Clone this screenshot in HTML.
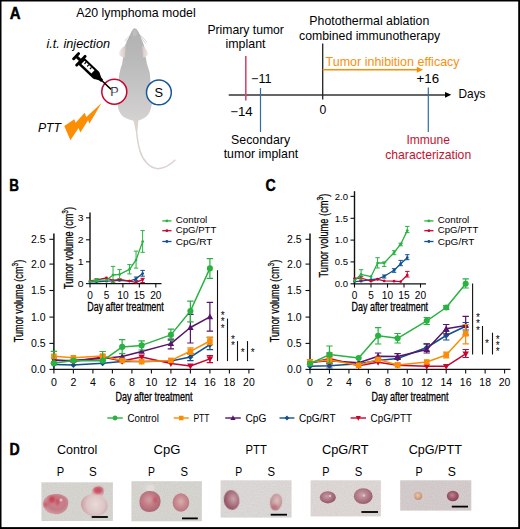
<!DOCTYPE html>
<html><head><meta charset="utf-8"><style>
html,body{margin:0;padding:0;background:#fff;overflow:hidden;}
svg{display:block;}
text{font-family:"Liberation Sans",sans-serif;}
</style></head><body>
<svg width="520" height="529" viewBox="0 0 520 529">
<rect x="0" y="0" width="520" height="529" fill="#000"/>
<rect x="1.5" y="1.5" width="516.7" height="525.6" fill="#fff"/>
<text x="9.80" y="18.9" font-size="15.6" font-weight="bold" font-style="normal" fill="#000" textLength="10.82" lengthAdjust="spacingAndGlyphs" stroke="#000" stroke-width="0.45">A</text>
<text x="76.2" y="17" font-size="12.2" text-anchor="start" font-weight="normal" font-style="normal" fill="#000" textLength="119.5" lengthAdjust="spacingAndGlyphs" >A20 lymphoma model</text>
<defs>
<linearGradient id="mg" x1="0" y1="0" x2="1" y2="0">
<stop offset="0" stop-color="#b9b8b8"/><stop offset="0.5" stop-color="#a9a8a8"/><stop offset="1" stop-color="#bdbbba"/>
</linearGradient>
<linearGradient id="mg2" x1="0" y1="0" x2="0" y2="1">
<stop offset="0" stop-color="#b2b1b1"/><stop offset="0.35" stop-color="#bbbaba"/><stop offset="0.7" stop-color="#c8c7c7"/><stop offset="1" stop-color="#d5d2d1"/>
</linearGradient>
<filter id="blur1"><feGaussianBlur stdDeviation="0.6"/></filter>
</defs>
<path d="M135.6,119 C136.2,130 137.2,142 140,151 C143,161 150,168 157,168.6 C164,169 170,165 175,160.3" fill="none" stroke="#dcd2ce" stroke-width="1.5" stroke-linecap="round"/>
<path d="M132.8,118 L138.6,118 L137.4,131 L135.9,131 Z" fill="#dcd2ce"/>
<path filter="url(#blur1)" d="M134.8,28.2 C136.5,28.8 137.5,30 138.2,31.6 C139.5,34 140.5,36.5 141.2,38.4 C142,40.5 142.8,42 143.3,43.5 L144.4,47 L145.8,57.8 C146.3,60 146.6,62 146.9,63.8 C148.3,68 149.3,71 149.8,73.2 C150.5,80 151,90 151.7,99.8 C152,104 151.5,107 150.7,109.2 C149.5,113 148,115 146,116.8 C143,119 140.5,120 138.4,120.6 L132.7,120.6 C130,120 126,118.5 123.3,116.8 C121,114.5 119,111.5 118.5,109.2 C117.5,105 117.4,102 117.6,99.8 C118,90 118.3,80 119.5,73.2 C120,70 121,67 122.2,63.8 C122.4,62 122.7,60 123,57.8 L124.7,46 C125.2,45 125.6,44.3 126,43.5 C126.8,41.5 127.5,40 128.5,38.4 C129.5,36 130.5,33.5 131.5,31.6 C132.5,29.5 133.5,28.5 134.8,28.2 Z" fill="url(#mg2)"/>
<ellipse cx="134.8" cy="33" rx="2.2" ry="3.5" fill="#c4c2c2" filter="url(#blur1)" opacity="0.7"/>
<defs><linearGradient id="earL" x1="0" y1="0" x2="1" y2="0"><stop offset="0" stop-color="#f1e9e6"/><stop offset="1" stop-color="#d6c6c3"/></linearGradient><linearGradient id="earR" x1="1" y1="0" x2="0" y2="0"><stop offset="0" stop-color="#f1e9e6"/><stop offset="1" stop-color="#d6c6c3"/></linearGradient></defs>
<path filter="url(#blur1)" d="M125.8,45.4 C122.5,46.8 119.6,49.8 119.1,53.2 C119,55 120,56.2 121.4,56.6 C122.6,57.1 123.7,57.6 124.8,57.6 Z" fill="url(#earL)"/>
<path filter="url(#blur1)" d="M142,45.8 C145,47.2 147.6,50.4 147.9,53.6 C148,55.3 147.2,56.2 145.9,56.6 C144.8,57.1 143.9,57.6 143.2,57.6 Z" fill="url(#earR)"/>
<path d="M129.8,35.8 L124.5,40.8 M130.2,37 L126,42 M139.6,34.2 L146.9,42 M140,35.8 L145.5,43.5" stroke="#7d7b7b" stroke-width="0.45" opacity="0.7" fill="none"/>
<circle cx="114.3" cy="91.7" r="12.5" fill="#fff" stroke="#c8052f" stroke-width="1.5"/>
<circle cx="158.9" cy="92.4" r="12.4" fill="#fff" stroke="#17589a" stroke-width="1.5"/>
<text x="110.2" y="96.2" font-size="12.6" text-anchor="start" font-weight="normal" font-style="normal" fill="#000" stroke="#fff" stroke-width="0.2">P</text>
<text x="154.5" y="97.2" font-size="12.8" text-anchor="start" font-weight="normal" font-style="normal" fill="#000" >S</text>
<g transform="translate(76.1,56.2) rotate(43.5)" fill="#000"><rect x="-1.4" y="-5.0" width="2.8" height="10" rx="1.2"/><rect x="0" y="-1.45" width="6.5" height="2.9"/><rect x="5.2" y="-7.5" width="2.8" height="15" rx="1.2"/><path d="M7,-4.6 L27.3,-4.6 Q29.8,-4.6 29.8,-2 L29.8,2 Q29.8,4.6 27.3,4.6 L7,4.6 Z"/><rect x="9.2" y="-2.5" width="13.8" height="4.5" fill="#fff"/><rect x="10.8" y="-2.6" width="1.2" height="2.5" rx="0.5"/><rect x="14.5" y="-2.6" width="1.2" height="2.5" rx="0.5"/><rect x="18.3" y="-2.6" width="1.2" height="2.5" rx="0.5"/><path d="M29,-3.8 L33,-1.8 L36,-1.5 L36,1.5 L33,1.8 L29,3.8 Z"/><rect x="35" y="-0.7" width="13.2" height="1.4"/></g>
<text x="46.5" y="47.6" font-size="12.2" text-anchor="start" font-weight="normal" font-style="italic" fill="#000" textLength="63.5" lengthAdjust="spacingAndGlyphs" >i.t. injection</text>
<path d="M64.3,126 L74.3,119.2 L75.6,122.7 L84.7,112.8 L86.4,116.9 L101.5,103 L89.4,123.8 L88.1,120.3 L80.3,132.4 L78.6,128.1 L70.4,140.2 Z" fill="#fb8e02"/>
<text x="38" y="132.2" font-size="12.2" text-anchor="start" font-weight="normal" font-style="italic" fill="#000" textLength="23" lengthAdjust="spacingAndGlyphs" >PTT</text>
<line x1="228.7" y1="94.9" x2="446" y2="94.9" stroke="#333" stroke-width="1.5"/>
<path d="M445,91.9 L451.3,94.8 L445,97.7 Z" fill="#000"/>
<line x1="245.8" y1="56" x2="245.8" y2="100.5" stroke="#d8486c" stroke-width="1.6"/>
<line x1="260.5" y1="88" x2="260.5" y2="132" stroke="#2c6ea6" stroke-width="1.2"/>
<line x1="322.7" y1="43.5" x2="322.7" y2="99.5" stroke="#222" stroke-width="1.3"/>
<line x1="428.3" y1="87.5" x2="428.3" y2="132" stroke="#2c6ea6" stroke-width="1.2"/>
<line x1="322.7" y1="69.8" x2="418" y2="69.8" stroke="#fb8e04" stroke-width="1.6"/>
<path d="M416.8,66.8 L423,69.8 L416.8,72.8 Z" fill="#fb8e04"/>
<text x="245.7" y="33.5" font-size="12.2" text-anchor="middle" font-weight="normal" font-style="normal" fill="#000" textLength="76.5" lengthAdjust="spacingAndGlyphs" >Primary tumor</text>
<text x="245.5" y="48.3" font-size="12.2" text-anchor="middle" font-weight="normal" font-style="normal" fill="#000" textLength="40" lengthAdjust="spacingAndGlyphs" >implant</text>
<text x="369.3" y="24.5" font-size="12.2" text-anchor="middle" font-weight="normal" font-style="normal" fill="#000" textLength="120" lengthAdjust="spacingAndGlyphs" >Photothermal ablation</text>
<text x="369.6" y="39.5" font-size="12.2" text-anchor="middle" font-weight="normal" font-style="normal" fill="#000" textLength="141" lengthAdjust="spacingAndGlyphs" >combined immunotherapy</text>
<text x="392.6" y="65.9" font-size="12.2" text-anchor="middle" font-weight="normal" font-style="normal" fill="#f99010" textLength="134" lengthAdjust="spacingAndGlyphs" >Tumor inhibition efficacy</text>
<text x="261.3" y="83" font-size="12.2" text-anchor="middle" font-weight="normal" font-style="normal" fill="#000" textLength="20.5" lengthAdjust="spacingAndGlyphs" >−11</text>
<text x="427.8" y="83.2" font-size="12.2" text-anchor="middle" font-weight="normal" font-style="normal" fill="#000" textLength="22.5" lengthAdjust="spacingAndGlyphs" >+16</text>
<text x="241.5" y="115.5" font-size="12.2" text-anchor="middle" font-weight="normal" font-style="normal" fill="#000" textLength="22.5" lengthAdjust="spacingAndGlyphs" >−14</text>
<text x="322.9" y="113.8" font-size="12.2" text-anchor="middle" font-weight="normal" font-style="normal" fill="#000" >0</text>
<text x="472" y="98.3" font-size="12.2" text-anchor="middle" font-weight="normal" font-style="normal" fill="#000" textLength="27" lengthAdjust="spacingAndGlyphs" >Days</text>
<text x="260.6" y="143.8" font-size="12.2" text-anchor="middle" font-weight="normal" font-style="normal" fill="#000" textLength="59" lengthAdjust="spacingAndGlyphs" >Secondary</text>
<text x="260.9" y="157.5" font-size="12.2" text-anchor="middle" font-weight="normal" font-style="normal" fill="#000" textLength="74.5" lengthAdjust="spacingAndGlyphs" >tumor implant</text>
<text x="428.2" y="143.5" font-size="12.2" text-anchor="middle" font-weight="normal" font-style="normal" fill="#c2122f" textLength="43.5" lengthAdjust="spacingAndGlyphs" >Immune</text>
<text x="428.2" y="158.8" font-size="12.2" text-anchor="middle" font-weight="normal" font-style="normal" fill="#c2122f" textLength="86" lengthAdjust="spacingAndGlyphs" >characterization</text>
<line x1="53.9" y1="233.5" x2="53.9" y2="370.0" stroke="#111" stroke-width="1.5"/>
<line x1="53.15" y1="369.4" x2="254.4" y2="369.4" stroke="#111" stroke-width="1.3"/>
<line x1="49.4" y1="369.4" x2="53.9" y2="369.4" stroke="#111" stroke-width="1.1"/>
<text x="45.599999999999994" y="373.0" font-size="10.4" text-anchor="end" font-weight="normal" font-style="normal" fill="#000" textLength="14.6" lengthAdjust="spacingAndGlyphs" >0.0</text>
<line x1="49.4" y1="343.4" x2="53.9" y2="343.4" stroke="#111" stroke-width="1.1"/>
<text x="45.599999999999994" y="347.0" font-size="10.4" text-anchor="end" font-weight="normal" font-style="normal" fill="#000" textLength="14.6" lengthAdjust="spacingAndGlyphs" >0.5</text>
<line x1="49.4" y1="317.1" x2="53.9" y2="317.1" stroke="#111" stroke-width="1.1"/>
<text x="45.599999999999994" y="320.70000000000005" font-size="10.4" text-anchor="end" font-weight="normal" font-style="normal" fill="#000" textLength="14.6" lengthAdjust="spacingAndGlyphs" >1.0</text>
<line x1="49.4" y1="290.5" x2="53.9" y2="290.5" stroke="#111" stroke-width="1.1"/>
<text x="45.599999999999994" y="294.1" font-size="10.4" text-anchor="end" font-weight="normal" font-style="normal" fill="#000" textLength="14.6" lengthAdjust="spacingAndGlyphs" >1.5</text>
<line x1="49.4" y1="264.1" x2="53.9" y2="264.1" stroke="#111" stroke-width="1.1"/>
<text x="45.599999999999994" y="267.70000000000005" font-size="10.4" text-anchor="end" font-weight="normal" font-style="normal" fill="#000" textLength="14.6" lengthAdjust="spacingAndGlyphs" >2.0</text>
<line x1="49.4" y1="239.3" x2="53.9" y2="239.3" stroke="#111" stroke-width="1.1"/>
<text x="45.599999999999994" y="242.9" font-size="10.4" text-anchor="end" font-weight="normal" font-style="normal" fill="#000" textLength="14.6" lengthAdjust="spacingAndGlyphs" >2.5</text>
<line x1="53.90" y1="369.4" x2="53.90" y2="373.59999999999997" stroke="#111" stroke-width="1.1"/>
<text x="53.90" y="386.29999999999995" font-size="10.4" text-anchor="middle" font-weight="normal" font-style="normal" fill="#000" textLength="5.9" lengthAdjust="spacingAndGlyphs" >0</text>
<line x1="73.40" y1="369.4" x2="73.40" y2="373.59999999999997" stroke="#111" stroke-width="1.1"/>
<text x="73.40" y="386.29999999999995" font-size="10.4" text-anchor="middle" font-weight="normal" font-style="normal" fill="#000" textLength="5.9" lengthAdjust="spacingAndGlyphs" >2</text>
<line x1="92.90" y1="369.4" x2="92.90" y2="373.59999999999997" stroke="#111" stroke-width="1.1"/>
<text x="92.90" y="386.29999999999995" font-size="10.4" text-anchor="middle" font-weight="normal" font-style="normal" fill="#000" textLength="5.9" lengthAdjust="spacingAndGlyphs" >4</text>
<line x1="112.40" y1="369.4" x2="112.40" y2="373.59999999999997" stroke="#111" stroke-width="1.1"/>
<text x="112.40" y="386.29999999999995" font-size="10.4" text-anchor="middle" font-weight="normal" font-style="normal" fill="#000" textLength="5.9" lengthAdjust="spacingAndGlyphs" >6</text>
<line x1="131.90" y1="369.4" x2="131.90" y2="373.59999999999997" stroke="#111" stroke-width="1.1"/>
<text x="131.90" y="386.29999999999995" font-size="10.4" text-anchor="middle" font-weight="normal" font-style="normal" fill="#000" textLength="5.9" lengthAdjust="spacingAndGlyphs" >8</text>
<line x1="151.40" y1="369.4" x2="151.40" y2="373.59999999999997" stroke="#111" stroke-width="1.1"/>
<text x="151.40" y="386.29999999999995" font-size="10.4" text-anchor="middle" font-weight="normal" font-style="normal" fill="#000" textLength="11.6" lengthAdjust="spacingAndGlyphs" >10</text>
<line x1="170.90" y1="369.4" x2="170.90" y2="373.59999999999997" stroke="#111" stroke-width="1.1"/>
<text x="170.90" y="386.29999999999995" font-size="10.4" text-anchor="middle" font-weight="normal" font-style="normal" fill="#000" textLength="11.6" lengthAdjust="spacingAndGlyphs" >12</text>
<line x1="190.40" y1="369.4" x2="190.40" y2="373.59999999999997" stroke="#111" stroke-width="1.1"/>
<text x="190.40" y="386.29999999999995" font-size="10.4" text-anchor="middle" font-weight="normal" font-style="normal" fill="#000" textLength="11.6" lengthAdjust="spacingAndGlyphs" >14</text>
<line x1="209.90" y1="369.4" x2="209.90" y2="373.59999999999997" stroke="#111" stroke-width="1.1"/>
<text x="209.90" y="386.29999999999995" font-size="10.4" text-anchor="middle" font-weight="normal" font-style="normal" fill="#000" textLength="11.6" lengthAdjust="spacingAndGlyphs" >16</text>
<line x1="229.40" y1="369.4" x2="229.40" y2="373.59999999999997" stroke="#111" stroke-width="1.1"/>
<text x="229.40" y="386.29999999999995" font-size="10.4" text-anchor="middle" font-weight="normal" font-style="normal" fill="#000" textLength="11.6" lengthAdjust="spacingAndGlyphs" >18</text>
<line x1="248.90" y1="369.4" x2="248.90" y2="373.59999999999997" stroke="#111" stroke-width="1.1"/>
<text x="248.90" y="386.29999999999995" font-size="10.4" text-anchor="middle" font-weight="normal" font-style="normal" fill="#000" textLength="11.6" lengthAdjust="spacingAndGlyphs" >20</text>
<polyline points="53.90,364.40 73.40,365.00 102.65,363.20 122.15,361.50 141.65,361.60 170.90,361.00 190.40,357.00 209.90,344.70" fill="none" stroke="#124f8e" stroke-width="1.5" stroke-linejoin="round"/>
<path d="M190.40,353.30 L190.40,360.60 M187.20,353.30 L193.60,353.30 M187.20,360.60 L193.60,360.60" stroke="#124f8e" stroke-width="1.2" fill="none"/>
<path d="M209.90,337.30 L209.90,349.60 M206.70,337.30 L213.10,337.30 M206.70,349.60 L213.10,349.60" stroke="#124f8e" stroke-width="1.2" fill="none"/>
<path d="M53.90,361.40 L56.90,364.40 L53.90,367.40 L50.90,364.40 Z" fill="#124f8e"/>
<path d="M73.40,362.00 L76.40,365.00 L73.40,368.00 L70.40,365.00 Z" fill="#124f8e"/>
<path d="M102.65,360.20 L105.65,363.20 L102.65,366.20 L99.65,363.20 Z" fill="#124f8e"/>
<path d="M122.15,358.50 L125.15,361.50 L122.15,364.50 L119.15,361.50 Z" fill="#124f8e"/>
<path d="M141.65,358.60 L144.65,361.60 L141.65,364.60 L138.65,361.60 Z" fill="#124f8e"/>
<path d="M170.90,358.00 L173.90,361.00 L170.90,364.00 L167.90,361.00 Z" fill="#124f8e"/>
<path d="M190.40,354.00 L193.40,357.00 L190.40,360.00 L187.40,357.00 Z" fill="#124f8e"/>
<path d="M209.90,341.70 L212.90,344.70 L209.90,347.70 L206.90,344.70 Z" fill="#124f8e"/>
<polyline points="53.90,359.80 73.40,361.60 102.65,357.00 122.15,361.00 141.65,357.00 170.90,363.60 190.40,366.00 209.90,358.90" fill="none" stroke="#c8052f" stroke-width="1.5" stroke-linejoin="round"/>
<path d="M209.90,355.70 L209.90,362.60 M206.70,355.70 L213.10,355.70 M206.70,362.60 L213.10,362.60" stroke="#c8052f" stroke-width="1.2" fill="none"/>
<path d="M53.90,363.20 L57.13,357.42 L50.67,357.42 Z" fill="#c8052f"/>
<path d="M73.40,365.00 L76.63,359.22 L70.17,359.22 Z" fill="#c8052f"/>
<path d="M102.65,360.40 L105.88,354.62 L99.42,354.62 Z" fill="#c8052f"/>
<path d="M122.15,364.40 L125.38,358.62 L118.92,358.62 Z" fill="#c8052f"/>
<path d="M141.65,360.40 L144.88,354.62 L138.42,354.62 Z" fill="#c8052f"/>
<path d="M170.90,367.00 L174.13,361.22 L167.67,361.22 Z" fill="#c8052f"/>
<path d="M190.40,369.40 L193.63,363.62 L187.17,363.62 Z" fill="#c8052f"/>
<path d="M209.90,362.30 L213.13,356.52 L206.67,356.52 Z" fill="#c8052f"/>
<polyline points="53.90,360.60 73.40,360.30 102.65,358.60 122.15,356.50 141.65,351.40 170.90,343.60 190.40,327.50 209.90,316.90" fill="none" stroke="#57146c" stroke-width="1.5" stroke-linejoin="round"/>
<path d="M170.90,339.20 L170.90,348.80 M167.70,339.20 L174.10,339.20 M167.70,348.80 L174.10,348.80" stroke="#57146c" stroke-width="1.2" fill="none"/>
<path d="M190.40,314.40 L190.40,343.00 M187.20,314.40 L193.60,314.40 M187.20,343.00 L193.60,343.00" stroke="#57146c" stroke-width="1.2" fill="none"/>
<path d="M209.90,302.40 L209.90,331.10 M206.70,302.40 L213.10,302.40 M206.70,331.10 L213.10,331.10" stroke="#57146c" stroke-width="1.2" fill="none"/>
<path d="M53.90,357.20 L57.13,362.98 L50.67,362.98 Z" fill="#57146c"/>
<path d="M73.40,356.90 L76.63,362.68 L70.17,362.68 Z" fill="#57146c"/>
<path d="M102.65,355.20 L105.88,360.98 L99.42,360.98 Z" fill="#57146c"/>
<path d="M122.15,353.10 L125.38,358.88 L118.92,358.88 Z" fill="#57146c"/>
<path d="M141.65,348.00 L144.88,353.78 L138.42,353.78 Z" fill="#57146c"/>
<path d="M170.90,340.20 L174.13,345.98 L167.67,345.98 Z" fill="#57146c"/>
<path d="M190.40,324.10 L193.63,329.88 L187.17,329.88 Z" fill="#57146c"/>
<path d="M209.90,313.50 L213.13,319.28 L206.67,319.28 Z" fill="#57146c"/>
<polyline points="53.90,356.30 73.40,357.80 102.65,356.10 122.15,360.50 141.65,361.70 170.90,360.40 190.40,351.30 209.90,341.00" fill="none" stroke="#fb8c06" stroke-width="1.5" stroke-linejoin="round"/>
<path d="M190.40,347.90 L190.40,354.50 M187.20,347.90 L193.60,347.90 M187.20,354.50 L193.60,354.50" stroke="#fb8c06" stroke-width="1.2" fill="none"/>
<path d="M209.90,337.30 L209.90,344.70 M206.70,337.30 L213.10,337.30 M206.70,344.70 L213.10,344.70" stroke="#fb8c06" stroke-width="1.2" fill="none"/>
<rect x="51.10" y="353.50" width="5.60" height="5.60" fill="#fb8c06"/>
<rect x="70.60" y="355.00" width="5.60" height="5.60" fill="#fb8c06"/>
<rect x="99.85" y="353.30" width="5.60" height="5.60" fill="#fb8c06"/>
<rect x="119.35" y="357.70" width="5.60" height="5.60" fill="#fb8c06"/>
<rect x="138.85" y="358.90" width="5.60" height="5.60" fill="#fb8c06"/>
<rect x="168.10" y="357.60" width="5.60" height="5.60" fill="#fb8c06"/>
<rect x="187.60" y="348.50" width="5.60" height="5.60" fill="#fb8c06"/>
<rect x="207.10" y="338.20" width="5.60" height="5.60" fill="#fb8c06"/>
<polyline points="53.90,363.30 73.40,360.60 102.65,360.80 122.15,346.90 141.65,345.40 170.90,334.90 190.40,311.00 209.90,268.40" fill="none" stroke="#28b240" stroke-width="1.5" stroke-linejoin="round"/>
<path d="M53.90,351.40 L53.90,363.30 M50.70,351.40 L57.10,351.40 M50.70,363.30 L57.10,363.30" stroke="#28b240" stroke-width="1.2" fill="none"/>
<path d="M102.65,351.50 L102.65,360.80 M99.45,351.50 L105.85,351.50 M99.45,360.80 L105.85,360.80" stroke="#28b240" stroke-width="1.2" fill="none"/>
<path d="M122.15,339.60 L122.15,353.60 M118.95,339.60 L125.35,339.60 M118.95,353.60 L125.35,353.60" stroke="#28b240" stroke-width="1.2" fill="none"/>
<path d="M141.65,340.80 L141.65,350.00 M138.45,340.80 L144.85,340.80 M138.45,350.00 L144.85,350.00" stroke="#28b240" stroke-width="1.2" fill="none"/>
<path d="M170.90,329.20 L170.90,340.50 M167.70,329.20 L174.10,329.20 M167.70,340.50 L174.10,340.50" stroke="#28b240" stroke-width="1.2" fill="none"/>
<path d="M190.40,301.10 L190.40,321.80 M187.20,301.10 L193.60,301.10 M187.20,321.80 L193.60,321.80" stroke="#28b240" stroke-width="1.2" fill="none"/>
<path d="M209.90,258.60 L209.90,278.30 M206.70,258.60 L213.10,258.60 M206.70,278.30 L213.10,278.30" stroke="#28b240" stroke-width="1.2" fill="none"/>
<circle cx="53.90" cy="363.30" r="3.05" fill="#28b240"/>
<circle cx="73.40" cy="360.60" r="3.05" fill="#28b240"/>
<circle cx="102.65" cy="360.80" r="3.05" fill="#28b240"/>
<circle cx="122.15" cy="346.90" r="3.05" fill="#28b240"/>
<circle cx="141.65" cy="345.40" r="3.05" fill="#28b240"/>
<circle cx="170.90" cy="334.90" r="3.05" fill="#28b240"/>
<circle cx="190.40" cy="311.00" r="3.05" fill="#28b240"/>
<circle cx="209.90" cy="268.40" r="3.05" fill="#28b240"/>
<line x1="310.0" y1="233.5" x2="310.0" y2="370.0" stroke="#111" stroke-width="1.5"/>
<line x1="309.25" y1="369.4" x2="510.5" y2="369.4" stroke="#111" stroke-width="1.3"/>
<line x1="305.5" y1="369.4" x2="310.0" y2="369.4" stroke="#111" stroke-width="1.1"/>
<text x="301.7" y="373.0" font-size="10.4" text-anchor="end" font-weight="normal" font-style="normal" fill="#000" textLength="14.6" lengthAdjust="spacingAndGlyphs" >0.0</text>
<line x1="305.5" y1="343.4" x2="310.0" y2="343.4" stroke="#111" stroke-width="1.1"/>
<text x="301.7" y="347.0" font-size="10.4" text-anchor="end" font-weight="normal" font-style="normal" fill="#000" textLength="14.6" lengthAdjust="spacingAndGlyphs" >0.5</text>
<line x1="305.5" y1="317.1" x2="310.0" y2="317.1" stroke="#111" stroke-width="1.1"/>
<text x="301.7" y="320.70000000000005" font-size="10.4" text-anchor="end" font-weight="normal" font-style="normal" fill="#000" textLength="14.6" lengthAdjust="spacingAndGlyphs" >1.0</text>
<line x1="305.5" y1="290.5" x2="310.0" y2="290.5" stroke="#111" stroke-width="1.1"/>
<text x="301.7" y="294.1" font-size="10.4" text-anchor="end" font-weight="normal" font-style="normal" fill="#000" textLength="14.6" lengthAdjust="spacingAndGlyphs" >1.5</text>
<line x1="305.5" y1="264.1" x2="310.0" y2="264.1" stroke="#111" stroke-width="1.1"/>
<text x="301.7" y="267.70000000000005" font-size="10.4" text-anchor="end" font-weight="normal" font-style="normal" fill="#000" textLength="14.6" lengthAdjust="spacingAndGlyphs" >2.0</text>
<line x1="305.5" y1="239.3" x2="310.0" y2="239.3" stroke="#111" stroke-width="1.1"/>
<text x="301.7" y="242.9" font-size="10.4" text-anchor="end" font-weight="normal" font-style="normal" fill="#000" textLength="14.6" lengthAdjust="spacingAndGlyphs" >2.5</text>
<line x1="310.00" y1="369.4" x2="310.00" y2="373.59999999999997" stroke="#111" stroke-width="1.1"/>
<text x="310.00" y="386.29999999999995" font-size="10.4" text-anchor="middle" font-weight="normal" font-style="normal" fill="#000" textLength="5.9" lengthAdjust="spacingAndGlyphs" >0</text>
<line x1="329.46" y1="369.4" x2="329.46" y2="373.59999999999997" stroke="#111" stroke-width="1.1"/>
<text x="329.46" y="386.29999999999995" font-size="10.4" text-anchor="middle" font-weight="normal" font-style="normal" fill="#000" textLength="5.9" lengthAdjust="spacingAndGlyphs" >2</text>
<line x1="348.92" y1="369.4" x2="348.92" y2="373.59999999999997" stroke="#111" stroke-width="1.1"/>
<text x="348.92" y="386.29999999999995" font-size="10.4" text-anchor="middle" font-weight="normal" font-style="normal" fill="#000" textLength="5.9" lengthAdjust="spacingAndGlyphs" >4</text>
<line x1="368.38" y1="369.4" x2="368.38" y2="373.59999999999997" stroke="#111" stroke-width="1.1"/>
<text x="368.38" y="386.29999999999995" font-size="10.4" text-anchor="middle" font-weight="normal" font-style="normal" fill="#000" textLength="5.9" lengthAdjust="spacingAndGlyphs" >6</text>
<line x1="387.84" y1="369.4" x2="387.84" y2="373.59999999999997" stroke="#111" stroke-width="1.1"/>
<text x="387.84" y="386.29999999999995" font-size="10.4" text-anchor="middle" font-weight="normal" font-style="normal" fill="#000" textLength="5.9" lengthAdjust="spacingAndGlyphs" >8</text>
<line x1="407.30" y1="369.4" x2="407.30" y2="373.59999999999997" stroke="#111" stroke-width="1.1"/>
<text x="407.30" y="386.29999999999995" font-size="10.4" text-anchor="middle" font-weight="normal" font-style="normal" fill="#000" textLength="11.6" lengthAdjust="spacingAndGlyphs" >10</text>
<line x1="426.76" y1="369.4" x2="426.76" y2="373.59999999999997" stroke="#111" stroke-width="1.1"/>
<text x="426.76" y="386.29999999999995" font-size="10.4" text-anchor="middle" font-weight="normal" font-style="normal" fill="#000" textLength="11.6" lengthAdjust="spacingAndGlyphs" >12</text>
<line x1="446.22" y1="369.4" x2="446.22" y2="373.59999999999997" stroke="#111" stroke-width="1.1"/>
<text x="446.22" y="386.29999999999995" font-size="10.4" text-anchor="middle" font-weight="normal" font-style="normal" fill="#000" textLength="11.6" lengthAdjust="spacingAndGlyphs" >14</text>
<line x1="465.68" y1="369.4" x2="465.68" y2="373.59999999999997" stroke="#111" stroke-width="1.1"/>
<text x="465.68" y="386.29999999999995" font-size="10.4" text-anchor="middle" font-weight="normal" font-style="normal" fill="#000" textLength="11.6" lengthAdjust="spacingAndGlyphs" >16</text>
<line x1="485.14" y1="369.4" x2="485.14" y2="373.59999999999997" stroke="#111" stroke-width="1.1"/>
<text x="485.14" y="386.29999999999995" font-size="10.4" text-anchor="middle" font-weight="normal" font-style="normal" fill="#000" textLength="11.6" lengthAdjust="spacingAndGlyphs" >18</text>
<line x1="504.60" y1="369.4" x2="504.60" y2="373.59999999999997" stroke="#111" stroke-width="1.1"/>
<text x="504.60" y="386.29999999999995" font-size="10.4" text-anchor="middle" font-weight="normal" font-style="normal" fill="#000" textLength="11.6" lengthAdjust="spacingAndGlyphs" >20</text>
<polyline points="310.00,366.20 329.46,365.80 358.65,363.80 378.11,360.40 397.57,358.50 426.76,347.50 446.22,335.50 465.68,326.30" fill="none" stroke="#124f8e" stroke-width="1.5" stroke-linejoin="round"/>
<path d="M329.46,363.50 L329.46,368.00 M326.26,363.50 L332.66,363.50 M326.26,368.00 L332.66,368.00" stroke="#124f8e" stroke-width="1.2" fill="none"/>
<path d="M426.76,344.00 L426.76,351.00 M423.56,344.00 L429.96,344.00 M423.56,351.00 L429.96,351.00" stroke="#124f8e" stroke-width="1.2" fill="none"/>
<path d="M446.22,331.30 L446.22,340.00 M443.02,331.30 L449.42,331.30 M443.02,340.00 L449.42,340.00" stroke="#124f8e" stroke-width="1.2" fill="none"/>
<path d="M465.68,322.50 L465.68,330.00 M462.48,322.50 L468.88,322.50 M462.48,330.00 L468.88,330.00" stroke="#124f8e" stroke-width="1.2" fill="none"/>
<path d="M310.00,363.20 L313.00,366.20 L310.00,369.20 L307.00,366.20 Z" fill="#124f8e"/>
<path d="M329.46,362.80 L332.46,365.80 L329.46,368.80 L326.46,365.80 Z" fill="#124f8e"/>
<path d="M358.65,360.80 L361.65,363.80 L358.65,366.80 L355.65,363.80 Z" fill="#124f8e"/>
<path d="M378.11,357.40 L381.11,360.40 L378.11,363.40 L375.11,360.40 Z" fill="#124f8e"/>
<path d="M397.57,355.50 L400.57,358.50 L397.57,361.50 L394.57,358.50 Z" fill="#124f8e"/>
<path d="M426.76,344.50 L429.76,347.50 L426.76,350.50 L423.76,347.50 Z" fill="#124f8e"/>
<path d="M446.22,332.50 L449.22,335.50 L446.22,338.50 L443.22,335.50 Z" fill="#124f8e"/>
<path d="M465.68,323.30 L468.68,326.30 L465.68,329.30 L462.68,326.30 Z" fill="#124f8e"/>
<polyline points="310.00,363.30 329.46,358.50 358.65,365.80 378.11,362.30 397.57,365.20 426.76,366.30 446.22,366.30 465.68,353.80" fill="none" stroke="#c8052f" stroke-width="1.5" stroke-linejoin="round"/>
<path d="M329.46,353.00 L329.46,364.00 M326.26,353.00 L332.66,353.00 M326.26,364.00 L332.66,364.00" stroke="#c8052f" stroke-width="1.2" fill="none"/>
<path d="M465.68,349.50 L465.68,357.50 M462.48,349.50 L468.88,349.50 M462.48,357.50 L468.88,357.50" stroke="#c8052f" stroke-width="1.2" fill="none"/>
<path d="M310.00,366.70 L313.23,360.92 L306.77,360.92 Z" fill="#c8052f"/>
<path d="M329.46,361.90 L332.69,356.12 L326.23,356.12 Z" fill="#c8052f"/>
<path d="M358.65,369.20 L361.88,363.42 L355.42,363.42 Z" fill="#c8052f"/>
<path d="M378.11,365.70 L381.34,359.92 L374.88,359.92 Z" fill="#c8052f"/>
<path d="M397.57,368.60 L400.80,362.82 L394.34,362.82 Z" fill="#c8052f"/>
<path d="M426.76,369.70 L429.99,363.92 L423.53,363.92 Z" fill="#c8052f"/>
<path d="M446.22,369.70 L449.45,363.92 L442.99,363.92 Z" fill="#c8052f"/>
<path d="M465.68,357.20 L468.91,351.42 L462.45,351.42 Z" fill="#c8052f"/>
<polyline points="310.00,362.30 329.46,360.80 358.65,362.70 378.11,356.20 397.57,356.50 426.76,349.50 446.22,328.80 465.68,325.50" fill="none" stroke="#57146c" stroke-width="1.5" stroke-linejoin="round"/>
<path d="M378.11,353.00 L378.11,359.40 M374.91,353.00 L381.31,353.00 M374.91,359.40 L381.31,359.40" stroke="#57146c" stroke-width="1.2" fill="none"/>
<path d="M397.57,353.60 L397.57,359.40 M394.37,353.60 L400.77,353.60 M394.37,359.40 L400.77,359.40" stroke="#57146c" stroke-width="1.2" fill="none"/>
<path d="M426.76,343.80 L426.76,353.00 M423.56,343.80 L429.96,343.80 M423.56,353.00 L429.96,353.00" stroke="#57146c" stroke-width="1.2" fill="none"/>
<path d="M446.22,324.50 L446.22,333.80 M443.02,324.50 L449.42,324.50 M443.02,333.80 L449.42,333.80" stroke="#57146c" stroke-width="1.2" fill="none"/>
<path d="M465.68,316.30 L465.68,335.00 M462.48,316.30 L468.88,316.30 M462.48,335.00 L468.88,335.00" stroke="#57146c" stroke-width="1.2" fill="none"/>
<path d="M310.00,358.90 L313.23,364.68 L306.77,364.68 Z" fill="#57146c"/>
<path d="M329.46,357.40 L332.69,363.18 L326.23,363.18 Z" fill="#57146c"/>
<path d="M358.65,359.30 L361.88,365.08 L355.42,365.08 Z" fill="#57146c"/>
<path d="M378.11,352.80 L381.34,358.58 L374.88,358.58 Z" fill="#57146c"/>
<path d="M397.57,353.10 L400.80,358.88 L394.34,358.88 Z" fill="#57146c"/>
<path d="M426.76,346.10 L429.99,351.88 L423.53,351.88 Z" fill="#57146c"/>
<path d="M446.22,325.40 L449.45,331.18 L442.99,331.18 Z" fill="#57146c"/>
<path d="M465.68,322.10 L468.91,327.88 L462.45,327.88 Z" fill="#57146c"/>
<polyline points="310.00,361.90 329.46,360.00 358.65,365.20 378.11,359.40 397.57,365.00 426.76,362.00 446.22,355.00 465.68,333.80" fill="none" stroke="#fb8c06" stroke-width="1.5" stroke-linejoin="round"/>
<path d="M310.00,359.50 L310.00,364.50 M306.80,359.50 L313.20,359.50 M306.80,364.50 L313.20,364.50" stroke="#fb8c06" stroke-width="1.2" fill="none"/>
<path d="M329.46,357.00 L329.46,363.00 M326.26,357.00 L332.66,357.00 M326.26,363.00 L332.66,363.00" stroke="#fb8c06" stroke-width="1.2" fill="none"/>
<path d="M446.22,352.00 L446.22,358.00 M443.02,352.00 L449.42,352.00 M443.02,358.00 L449.42,358.00" stroke="#fb8c06" stroke-width="1.2" fill="none"/>
<path d="M465.68,324.50 L465.68,343.80 M462.48,324.50 L468.88,324.50 M462.48,343.80 L468.88,343.80" stroke="#fb8c06" stroke-width="1.2" fill="none"/>
<rect x="307.20" y="359.10" width="5.60" height="5.60" fill="#fb8c06"/>
<rect x="326.66" y="357.20" width="5.60" height="5.60" fill="#fb8c06"/>
<rect x="355.85" y="362.40" width="5.60" height="5.60" fill="#fb8c06"/>
<rect x="375.31" y="356.60" width="5.60" height="5.60" fill="#fb8c06"/>
<rect x="394.77" y="362.20" width="5.60" height="5.60" fill="#fb8c06"/>
<rect x="423.96" y="359.20" width="5.60" height="5.60" fill="#fb8c06"/>
<rect x="443.42" y="352.20" width="5.60" height="5.60" fill="#fb8c06"/>
<rect x="462.88" y="331.00" width="5.60" height="5.60" fill="#fb8c06"/>
<polyline points="310.00,363.80 329.46,354.60 358.65,358.10 378.11,335.80 397.57,338.30 426.76,320.80 446.22,307.50 465.68,283.80" fill="none" stroke="#28b240" stroke-width="1.5" stroke-linejoin="round"/>
<path d="M329.46,346.00 L329.46,363.00 M326.26,346.00 L332.66,346.00 M326.26,363.00 L332.66,363.00" stroke="#28b240" stroke-width="1.2" fill="none"/>
<path d="M378.11,327.70 L378.11,344.00 M374.91,327.70 L381.31,327.70 M374.91,344.00 L381.31,344.00" stroke="#28b240" stroke-width="1.2" fill="none"/>
<path d="M397.57,333.50 L397.57,343.00 M394.37,333.50 L400.77,333.50 M394.37,343.00 L400.77,343.00" stroke="#28b240" stroke-width="1.2" fill="none"/>
<path d="M426.76,317.50 L426.76,324.50 M423.56,317.50 L429.96,317.50 M423.56,324.50 L429.96,324.50" stroke="#28b240" stroke-width="1.2" fill="none"/>
<path d="M446.22,305.50 L446.22,309.50 M443.02,305.50 L449.42,305.50 M443.02,309.50 L449.42,309.50" stroke="#28b240" stroke-width="1.2" fill="none"/>
<path d="M465.68,278.80 L465.68,288.00 M462.48,278.80 L468.88,278.80 M462.48,288.00 L468.88,288.00" stroke="#28b240" stroke-width="1.2" fill="none"/>
<circle cx="310.00" cy="363.80" r="3.05" fill="#28b240"/>
<circle cx="329.46" cy="354.60" r="3.05" fill="#28b240"/>
<circle cx="358.65" cy="358.10" r="3.05" fill="#28b240"/>
<circle cx="378.11" cy="335.80" r="3.05" fill="#28b240"/>
<circle cx="397.57" cy="338.30" r="3.05" fill="#28b240"/>
<circle cx="426.76" cy="320.80" r="3.05" fill="#28b240"/>
<circle cx="446.22" cy="307.50" r="3.05" fill="#28b240"/>
<circle cx="465.68" cy="283.80" r="3.05" fill="#28b240"/>
<line x1="217.5" y1="270.2" x2="217.5" y2="361.1" stroke="#111" stroke-width="1.1"/>
<line x1="227.5" y1="318.6" x2="227.5" y2="361.1" stroke="#111" stroke-width="1.1"/>
<line x1="237.5" y1="341.1" x2="237.5" y2="361.1" stroke="#111" stroke-width="1.1"/>
<line x1="247.5" y1="341.1" x2="247.5" y2="361.1" stroke="#111" stroke-width="1.1"/>
<text x="222.7" y="318.79999999999995" font-size="10" text-anchor="middle" font-weight="normal" font-style="normal" fill="#000" >*</text>
<text x="222.7" y="325.09999999999997" font-size="10" text-anchor="middle" font-weight="normal" font-style="normal" fill="#000" >*</text>
<text x="222.7" y="331.59999999999997" font-size="10" text-anchor="middle" font-weight="normal" font-style="normal" fill="#000" >*</text>
<text x="233" y="342.7" font-size="10" text-anchor="middle" font-weight="normal" font-style="normal" fill="#000" >*</text>
<text x="233" y="349.0" font-size="10" text-anchor="middle" font-weight="normal" font-style="normal" fill="#000" >*</text>
<text x="242.7" y="356.29999999999995" font-size="10" text-anchor="middle" font-weight="normal" font-style="normal" fill="#000" >*</text>
<text x="252.7" y="356.29999999999995" font-size="10" text-anchor="middle" font-weight="normal" font-style="normal" fill="#000" >*</text>
<line x1="472.6" y1="283.6" x2="472.6" y2="354.5" stroke="#111" stroke-width="1.1"/>
<line x1="482.5" y1="326" x2="482.5" y2="354.5" stroke="#111" stroke-width="1.1"/>
<line x1="492.5" y1="332.7" x2="492.5" y2="354.5" stroke="#111" stroke-width="1.1"/>
<text x="477.9" y="320.9" font-size="10" text-anchor="middle" font-weight="normal" font-style="normal" fill="#000" >*</text>
<text x="477.9" y="327.09999999999997" font-size="10" text-anchor="middle" font-weight="normal" font-style="normal" fill="#000" >*</text>
<text x="477.9" y="333.59999999999997" font-size="10" text-anchor="middle" font-weight="normal" font-style="normal" fill="#000" >*</text>
<text x="487" y="346.59999999999997" font-size="10" text-anchor="middle" font-weight="normal" font-style="normal" fill="#000" >*</text>
<text x="497.6" y="342.7" font-size="10" text-anchor="middle" font-weight="normal" font-style="normal" fill="#000" >*</text>
<text x="497.6" y="348.9" font-size="10" text-anchor="middle" font-weight="normal" font-style="normal" fill="#000" >*</text>
<text x="497.6" y="355.4" font-size="10" text-anchor="middle" font-weight="normal" font-style="normal" fill="#000" >*</text>
<text x="154" y="401.3" font-size="12" text-anchor="middle" textLength="77" lengthAdjust="spacingAndGlyphs" stroke="#000" stroke-width="0.28">Day after treatment</text>
<text x="410" y="401.3" font-size="12" text-anchor="middle" textLength="77" lengthAdjust="spacingAndGlyphs" stroke="#000" stroke-width="0.28">Day after treatment</text>
<line x1="90" y1="212.5" x2="90" y2="284.1" stroke="#111" stroke-width="1.4"/>
<line x1="89.3" y1="283.6" x2="161.5" y2="283.6" stroke="#111" stroke-width="1.3"/>
<line x1="86" y1="283.6" x2="90" y2="283.6" stroke="#111" stroke-width="1.1"/>
<text x="83.5" y="286.90000000000003" font-size="9.6" text-anchor="end" font-weight="normal" font-style="normal" fill="#000" textLength="5.8" lengthAdjust="spacingAndGlyphs" >0</text>
<line x1="86" y1="261.8" x2="90" y2="261.8" stroke="#111" stroke-width="1.1"/>
<text x="83.5" y="265.1" font-size="9.6" text-anchor="end" font-weight="normal" font-style="normal" fill="#000" textLength="5.8" lengthAdjust="spacingAndGlyphs" >1</text>
<line x1="86" y1="239.8" x2="90" y2="239.8" stroke="#111" stroke-width="1.1"/>
<text x="83.5" y="243.10000000000002" font-size="9.6" text-anchor="end" font-weight="normal" font-style="normal" fill="#000" textLength="5.8" lengthAdjust="spacingAndGlyphs" >2</text>
<line x1="86" y1="217.8" x2="90" y2="217.8" stroke="#111" stroke-width="1.1"/>
<text x="83.5" y="221.10000000000002" font-size="9.6" text-anchor="end" font-weight="normal" font-style="normal" fill="#000" textLength="5.8" lengthAdjust="spacingAndGlyphs" >3</text>
<line x1="90.00" y1="283.6" x2="90.00" y2="287.40000000000003" stroke="#111" stroke-width="1.1"/>
<text x="90.00" y="298.6" font-size="10.2" text-anchor="middle" font-weight="normal" font-style="normal" fill="#000" textLength="5.6" lengthAdjust="spacingAndGlyphs" >0</text>
<line x1="106.45" y1="283.6" x2="106.45" y2="287.40000000000003" stroke="#111" stroke-width="1.1"/>
<text x="106.45" y="298.6" font-size="10.2" text-anchor="middle" font-weight="normal" font-style="normal" fill="#000" textLength="5.6" lengthAdjust="spacingAndGlyphs" >5</text>
<line x1="122.90" y1="283.6" x2="122.90" y2="287.40000000000003" stroke="#111" stroke-width="1.1"/>
<text x="122.90" y="298.6" font-size="10.2" text-anchor="middle" font-weight="normal" font-style="normal" fill="#000" textLength="11.3" lengthAdjust="spacingAndGlyphs" >10</text>
<line x1="139.35" y1="283.6" x2="139.35" y2="287.40000000000003" stroke="#111" stroke-width="1.1"/>
<text x="139.35" y="298.6" font-size="10.2" text-anchor="middle" font-weight="normal" font-style="normal" fill="#000" textLength="11.3" lengthAdjust="spacingAndGlyphs" >15</text>
<line x1="155.80" y1="283.6" x2="155.80" y2="287.40000000000003" stroke="#111" stroke-width="1.1"/>
<text x="155.80" y="298.6" font-size="10.2" text-anchor="middle" font-weight="normal" font-style="normal" fill="#000" textLength="11.3" lengthAdjust="spacingAndGlyphs" >20</text>
<polyline points="90.00,281.80 96.58,281.80 106.45,281.20 113.03,280.80 119.61,280.40 129.48,281.00 136.06,278.80 142.64,273.50" fill="none" stroke="#124f8e" stroke-width="1.3" stroke-linejoin="round"/>
<path d="M136.06,277.00 L136.06,280.60 M133.86,277.00 L138.26,277.00 M133.86,280.60 L138.26,280.60" stroke="#124f8e" stroke-width="1.0" fill="none"/>
<path d="M142.64,270.40 L142.64,276.20 M140.44,270.40 L144.84,270.40 M140.44,276.20 L144.84,276.20" stroke="#124f8e" stroke-width="1.0" fill="none"/>
<circle cx="90.00" cy="281.80" r="1.37" fill="#124f8e"/>
<circle cx="96.58" cy="281.80" r="1.37" fill="#124f8e"/>
<circle cx="106.45" cy="281.20" r="1.37" fill="#124f8e"/>
<circle cx="113.03" cy="280.80" r="1.37" fill="#124f8e"/>
<circle cx="119.61" cy="280.40" r="1.37" fill="#124f8e"/>
<circle cx="129.48" cy="281.00" r="1.37" fill="#124f8e"/>
<circle cx="136.06" cy="278.80" r="1.37" fill="#124f8e"/>
<circle cx="142.64" cy="273.50" r="1.37" fill="#124f8e"/>
<polyline points="90.00,281.00 96.58,280.00 106.45,277.90 113.03,280.30 119.61,279.30 129.48,281.10 136.06,282.30 142.64,279.60" fill="none" stroke="#c8052f" stroke-width="1.3" stroke-linejoin="round"/>
<path d="M142.64,278.30 L142.64,282.50 M140.44,278.30 L144.84,278.30 M140.44,282.50 L144.84,282.50" stroke="#c8052f" stroke-width="1.0" fill="none"/>
<circle cx="90.00" cy="281.00" r="1.37" fill="#c8052f"/>
<circle cx="96.58" cy="280.00" r="1.37" fill="#c8052f"/>
<circle cx="106.45" cy="277.90" r="1.37" fill="#c8052f"/>
<circle cx="113.03" cy="280.30" r="1.37" fill="#c8052f"/>
<circle cx="119.61" cy="279.30" r="1.37" fill="#c8052f"/>
<circle cx="129.48" cy="281.10" r="1.37" fill="#c8052f"/>
<circle cx="136.06" cy="282.30" r="1.37" fill="#c8052f"/>
<circle cx="142.64" cy="279.60" r="1.37" fill="#c8052f"/>
<polyline points="90.00,281.60 96.58,280.20 106.45,280.20 113.03,275.00 119.61,274.40 129.48,269.30 136.06,260.00 142.64,241.60" fill="none" stroke="#28b240" stroke-width="1.3" stroke-linejoin="round"/>
<path d="M96.58,278.50 L96.58,281.70 M94.38,278.50 L98.78,278.50 M94.38,281.70 L98.78,281.70" stroke="#28b240" stroke-width="1.0" fill="none"/>
<path d="M113.03,266.40 L113.03,282.50 M110.83,266.40 L115.23,266.40 M110.83,282.50 L115.23,282.50" stroke="#28b240" stroke-width="1.0" fill="none"/>
<path d="M119.61,269.60 L119.61,278.50 M117.41,269.60 L121.81,269.60 M117.41,278.50 L121.81,278.50" stroke="#28b240" stroke-width="1.0" fill="none"/>
<path d="M129.48,264.60 L129.48,273.90 M127.28,264.60 L131.68,264.60 M127.28,273.90 L131.68,273.90" stroke="#28b240" stroke-width="1.0" fill="none"/>
<path d="M136.06,251.10 L136.06,268.10 M133.86,251.10 L138.26,251.10 M133.86,268.10 L138.26,268.10" stroke="#28b240" stroke-width="1.0" fill="none"/>
<path d="M142.64,230.60 L142.64,252.30 M140.44,230.60 L144.84,230.60 M140.44,252.30 L144.84,252.30" stroke="#28b240" stroke-width="1.0" fill="none"/>
<circle cx="90.00" cy="281.60" r="1.37" fill="#28b240"/>
<circle cx="96.58" cy="280.20" r="1.37" fill="#28b240"/>
<circle cx="106.45" cy="280.20" r="1.37" fill="#28b240"/>
<circle cx="113.03" cy="275.00" r="1.37" fill="#28b240"/>
<circle cx="119.61" cy="274.40" r="1.37" fill="#28b240"/>
<circle cx="129.48" cy="269.30" r="1.37" fill="#28b240"/>
<circle cx="136.06" cy="260.00" r="1.37" fill="#28b240"/>
<circle cx="142.64" cy="241.60" r="1.37" fill="#28b240"/>
<line x1="354.5" y1="191.2" x2="354.5" y2="284.3" stroke="#111" stroke-width="1.4"/>
<line x1="353.8" y1="283.8" x2="426.0" y2="283.8" stroke="#111" stroke-width="1.3"/>
<line x1="350.5" y1="283.8" x2="354.5" y2="283.8" stroke="#111" stroke-width="1.1"/>
<text x="348.0" y="287.1" font-size="9.6" text-anchor="end" font-weight="normal" font-style="normal" fill="#000" textLength="13.3" lengthAdjust="spacingAndGlyphs" >0.0</text>
<line x1="350.5" y1="261.9" x2="354.5" y2="261.9" stroke="#111" stroke-width="1.1"/>
<text x="348.0" y="265.2" font-size="9.6" text-anchor="end" font-weight="normal" font-style="normal" fill="#000" textLength="13.3" lengthAdjust="spacingAndGlyphs" >0.5</text>
<line x1="350.5" y1="240.1" x2="354.5" y2="240.1" stroke="#111" stroke-width="1.1"/>
<text x="348.0" y="243.4" font-size="9.6" text-anchor="end" font-weight="normal" font-style="normal" fill="#000" textLength="13.3" lengthAdjust="spacingAndGlyphs" >1.0</text>
<line x1="350.5" y1="218.3" x2="354.5" y2="218.3" stroke="#111" stroke-width="1.1"/>
<text x="348.0" y="221.60000000000002" font-size="9.6" text-anchor="end" font-weight="normal" font-style="normal" fill="#000" textLength="13.3" lengthAdjust="spacingAndGlyphs" >1.5</text>
<line x1="350.5" y1="196.4" x2="354.5" y2="196.4" stroke="#111" stroke-width="1.1"/>
<text x="348.0" y="199.70000000000002" font-size="9.6" text-anchor="end" font-weight="normal" font-style="normal" fill="#000" textLength="13.3" lengthAdjust="spacingAndGlyphs" >2.0</text>
<line x1="354.50" y1="283.8" x2="354.50" y2="287.6" stroke="#111" stroke-width="1.1"/>
<text x="354.50" y="298.8" font-size="10.2" text-anchor="middle" font-weight="normal" font-style="normal" fill="#000" textLength="5.6" lengthAdjust="spacingAndGlyphs" >0</text>
<line x1="371.00" y1="283.8" x2="371.00" y2="287.6" stroke="#111" stroke-width="1.1"/>
<text x="371.00" y="298.8" font-size="10.2" text-anchor="middle" font-weight="normal" font-style="normal" fill="#000" textLength="5.6" lengthAdjust="spacingAndGlyphs" >5</text>
<line x1="387.50" y1="283.8" x2="387.50" y2="287.6" stroke="#111" stroke-width="1.1"/>
<text x="387.50" y="298.8" font-size="10.2" text-anchor="middle" font-weight="normal" font-style="normal" fill="#000" textLength="11.3" lengthAdjust="spacingAndGlyphs" >10</text>
<line x1="404.00" y1="283.8" x2="404.00" y2="287.6" stroke="#111" stroke-width="1.1"/>
<text x="404.00" y="298.8" font-size="10.2" text-anchor="middle" font-weight="normal" font-style="normal" fill="#000" textLength="11.3" lengthAdjust="spacingAndGlyphs" >15</text>
<line x1="420.50" y1="283.8" x2="420.50" y2="287.6" stroke="#111" stroke-width="1.1"/>
<text x="420.50" y="298.8" font-size="10.2" text-anchor="middle" font-weight="normal" font-style="normal" fill="#000" textLength="11.3" lengthAdjust="spacingAndGlyphs" >20</text>
<polyline points="354.50,281.60 361.10,281.20 371.00,279.60 377.60,279.00 384.20,276.30 394.10,270.30 400.70,263.70 407.30,257.70" fill="none" stroke="#124f8e" stroke-width="1.3" stroke-linejoin="round"/>
<path d="M384.20,275.00 L384.20,278.00 M382.00,275.00 L386.40,275.00 M382.00,278.00 L386.40,278.00" stroke="#124f8e" stroke-width="1.0" fill="none"/>
<path d="M394.10,268.70 L394.10,272.30 M391.90,268.70 L396.30,268.70 M391.90,272.30 L396.30,272.30" stroke="#124f8e" stroke-width="1.0" fill="none"/>
<path d="M400.70,260.40 L400.70,265.70 M398.50,260.40 L402.90,260.40 M398.50,265.70 L402.90,265.70" stroke="#124f8e" stroke-width="1.0" fill="none"/>
<path d="M407.30,254.70 L407.30,259.70 M405.10,254.70 L409.50,254.70 M405.10,259.70 L409.50,259.70" stroke="#124f8e" stroke-width="1.0" fill="none"/>
<circle cx="354.50" cy="281.60" r="1.37" fill="#124f8e"/>
<circle cx="361.10" cy="281.20" r="1.37" fill="#124f8e"/>
<circle cx="371.00" cy="279.60" r="1.37" fill="#124f8e"/>
<circle cx="377.60" cy="279.00" r="1.37" fill="#124f8e"/>
<circle cx="384.20" cy="276.30" r="1.37" fill="#124f8e"/>
<circle cx="394.10" cy="270.30" r="1.37" fill="#124f8e"/>
<circle cx="400.70" cy="263.70" r="1.37" fill="#124f8e"/>
<circle cx="407.30" cy="257.70" r="1.37" fill="#124f8e"/>
<polyline points="354.50,278.50 361.10,278.00 371.00,281.20 377.60,279.30 384.20,280.90 394.10,281.20 400.70,281.60 407.30,275.00" fill="none" stroke="#c8052f" stroke-width="1.3" stroke-linejoin="round"/>
<path d="M361.10,276.30 L361.10,280.30 M358.90,276.30 L363.30,276.30 M358.90,280.30 L363.30,280.30" stroke="#c8052f" stroke-width="1.0" fill="none"/>
<path d="M407.30,271.40 L407.30,277.00 M405.10,271.40 L409.50,271.40 M405.10,277.00 L409.50,277.00" stroke="#c8052f" stroke-width="1.0" fill="none"/>
<circle cx="354.50" cy="278.50" r="1.37" fill="#c8052f"/>
<circle cx="361.10" cy="278.00" r="1.37" fill="#c8052f"/>
<circle cx="371.00" cy="281.20" r="1.37" fill="#c8052f"/>
<circle cx="377.60" cy="279.30" r="1.37" fill="#c8052f"/>
<circle cx="384.20" cy="280.90" r="1.37" fill="#c8052f"/>
<circle cx="394.10" cy="281.20" r="1.37" fill="#c8052f"/>
<circle cx="400.70" cy="281.60" r="1.37" fill="#c8052f"/>
<circle cx="407.30" cy="275.00" r="1.37" fill="#c8052f"/>
<polyline points="354.50,280.70 361.10,274.30 371.00,276.70 377.60,263.00 384.20,263.00 394.10,252.50 400.70,244.20 407.30,230.60" fill="none" stroke="#28b240" stroke-width="1.3" stroke-linejoin="round"/>
<path d="M361.10,269.70 L361.10,278.90 M358.90,269.70 L363.30,269.70 M358.90,278.90 L363.30,278.90" stroke="#28b240" stroke-width="1.0" fill="none"/>
<path d="M377.60,257.70 L377.60,268.00 M375.40,257.70 L379.80,257.70 M375.40,268.00 L379.80,268.00" stroke="#28b240" stroke-width="1.0" fill="none"/>
<path d="M384.20,262.00 L384.20,266.40 M382.00,262.00 L386.40,262.00 M382.00,266.40 L386.40,266.40" stroke="#28b240" stroke-width="1.0" fill="none"/>
<path d="M394.10,250.70 L394.10,254.70 M391.90,250.70 L396.30,250.70 M391.90,254.70 L396.30,254.70" stroke="#28b240" stroke-width="1.0" fill="none"/>
<path d="M400.70,243.20 L400.70,245.80 M398.50,243.20 L402.90,243.20 M398.50,245.80 L402.90,245.80" stroke="#28b240" stroke-width="1.0" fill="none"/>
<path d="M407.30,226.40 L407.30,232.60 M405.10,226.40 L409.50,226.40 M405.10,232.60 L409.50,232.60" stroke="#28b240" stroke-width="1.0" fill="none"/>
<circle cx="354.50" cy="280.70" r="1.37" fill="#28b240"/>
<circle cx="361.10" cy="274.30" r="1.37" fill="#28b240"/>
<circle cx="371.00" cy="276.70" r="1.37" fill="#28b240"/>
<circle cx="377.60" cy="263.00" r="1.37" fill="#28b240"/>
<circle cx="384.20" cy="263.00" r="1.37" fill="#28b240"/>
<circle cx="394.10" cy="252.50" r="1.37" fill="#28b240"/>
<circle cx="400.70" cy="244.20" r="1.37" fill="#28b240"/>
<circle cx="407.30" cy="230.60" r="1.37" fill="#28b240"/>
<text transform="translate(22.6,301) rotate(-90)" font-size="13" text-anchor="middle" textLength="82.5" lengthAdjust="spacingAndGlyphs" stroke="#000" stroke-width="0.28">Tumor volume (cm<tspan font-size="9.4" dy="-5">3</tspan><tspan dy="5">)</tspan></text>
<text transform="translate(278.6,301) rotate(-90)" font-size="13" text-anchor="middle" textLength="82.5" lengthAdjust="spacingAndGlyphs" stroke="#000" stroke-width="0.28">Tumor volume (cm<tspan font-size="9.4" dy="-5">3</tspan><tspan dy="5">)</tspan></text>
<text transform="translate(72.5,248) rotate(-90)" font-size="13" text-anchor="middle" textLength="82" lengthAdjust="spacingAndGlyphs" stroke="#000" stroke-width="0.28">Tumor volume (cm<tspan font-size="9.4" dy="-5">3</tspan><tspan dy="5">)</tspan></text>
<text transform="translate(328.4,235.6) rotate(-90)" font-size="13" text-anchor="middle" textLength="84" lengthAdjust="spacingAndGlyphs" stroke="#000" stroke-width="0.28">Tumor volume (cm<tspan font-size="9.4" dy="-5">3</tspan><tspan dy="5">)</tspan></text>
<text x="125.5" y="310.8" font-size="12" text-anchor="middle" textLength="76.6" lengthAdjust="spacingAndGlyphs" stroke="#000" stroke-width="0.28">Day after treatment</text>
<text x="389.8" y="310.8" font-size="12" text-anchor="middle" textLength="76.6" lengthAdjust="spacingAndGlyphs" stroke="#000" stroke-width="0.28">Day after treatment</text>
<line x1="162.3" y1="220.9" x2="171.5" y2="220.9" stroke="#28b240" stroke-width="1.3"/>
<circle cx="166.9" cy="220.9" r="1.4" fill="#28b240"/>
<text x="175.8" y="223.0" font-size="9.4" text-anchor="start" font-weight="normal" font-style="normal" fill="#000" textLength="31.5" lengthAdjust="spacingAndGlyphs" >Control</text>
<line x1="162.3" y1="230.7" x2="171.5" y2="230.7" stroke="#c8052f" stroke-width="1.3"/>
<circle cx="166.9" cy="230.7" r="1.4" fill="#c8052f"/>
<text x="175.8" y="232.9" font-size="9.4" text-anchor="start" font-weight="normal" font-style="normal" fill="#000" textLength="40.5" lengthAdjust="spacingAndGlyphs" >CpG/PTT</text>
<line x1="162.3" y1="241.5" x2="171.5" y2="241.5" stroke="#124f8e" stroke-width="1.3"/>
<circle cx="166.9" cy="241.5" r="1.4" fill="#124f8e"/>
<text x="175.8" y="245.0" font-size="9.4" text-anchor="start" font-weight="normal" font-style="normal" fill="#000" textLength="36.6" lengthAdjust="spacingAndGlyphs" >CpG/RT</text>
<line x1="424.3" y1="220.9" x2="433.5" y2="220.9" stroke="#28b240" stroke-width="1.3"/>
<circle cx="428.90000000000003" cy="220.9" r="1.4" fill="#28b240"/>
<text x="437.8" y="223.0" font-size="9.4" text-anchor="start" font-weight="normal" font-style="normal" fill="#000" textLength="31.5" lengthAdjust="spacingAndGlyphs" >Control</text>
<line x1="424.3" y1="230.7" x2="433.5" y2="230.7" stroke="#c8052f" stroke-width="1.3"/>
<circle cx="428.90000000000003" cy="230.7" r="1.4" fill="#c8052f"/>
<text x="437.8" y="232.9" font-size="9.4" text-anchor="start" font-weight="normal" font-style="normal" fill="#000" textLength="40.5" lengthAdjust="spacingAndGlyphs" >CpG/PTT</text>
<line x1="424.3" y1="241.5" x2="433.5" y2="241.5" stroke="#124f8e" stroke-width="1.3"/>
<circle cx="428.90000000000003" cy="241.5" r="1.4" fill="#124f8e"/>
<text x="437.8" y="245.0" font-size="9.4" text-anchor="start" font-weight="normal" font-style="normal" fill="#000" textLength="36.6" lengthAdjust="spacingAndGlyphs" >CpG/RT</text>
<text x="9.30" y="190.7" font-size="15.6" font-weight="bold" font-style="normal" fill="#000" textLength="9.71" lengthAdjust="spacingAndGlyphs" stroke="#000" stroke-width="0.45">B</text>
<text x="265.50" y="190.6" font-size="15.6" font-weight="bold" font-style="normal" fill="#000" textLength="10.21" lengthAdjust="spacingAndGlyphs" stroke="#000" stroke-width="0.45">C</text>
<text x="9.50" y="454.9" font-size="15.6" font-weight="bold" font-style="normal" fill="#000" textLength="10.21" lengthAdjust="spacingAndGlyphs" stroke="#000" stroke-width="0.45">D</text>
<line x1="107.3" y1="418" x2="122.8" y2="418" stroke="#28b240" stroke-width="1.4"/>
<circle cx="115.05" cy="418.00" r="2.44" fill="#28b240"/>
<text x="127.39999999999999" y="421.8" font-size="10.2" text-anchor="start" font-weight="normal" font-style="normal" fill="#000" textLength="31.5" lengthAdjust="spacingAndGlyphs" >Control</text>
<line x1="173.7" y1="418" x2="188.8" y2="418" stroke="#fb8c06" stroke-width="1.4"/>
<rect x="179.01" y="415.76" width="4.48" height="4.48" fill="#fb8c06"/>
<text x="193.4" y="421.8" font-size="10.2" text-anchor="start" font-weight="normal" font-style="normal" fill="#000" textLength="16.2" lengthAdjust="spacingAndGlyphs" >PTT</text>
<line x1="225.2" y1="418" x2="240.8" y2="418" stroke="#57146c" stroke-width="1.4"/>
<path d="M233.00,415.28 L235.58,419.90 L230.42,419.90 Z" fill="#57146c"/>
<text x="245.4" y="421.8" font-size="10.2" text-anchor="start" font-weight="normal" font-style="normal" fill="#000" textLength="21" lengthAdjust="spacingAndGlyphs" >CpG</text>
<line x1="279.5" y1="418" x2="294.4" y2="418" stroke="#124f8e" stroke-width="1.4"/>
<path d="M286.95,415.60 L289.35,418.00 L286.95,420.40 L284.55,418.00 Z" fill="#124f8e"/>
<text x="299.0" y="421.8" font-size="10.2" text-anchor="start" font-weight="normal" font-style="normal" fill="#000" textLength="36.5" lengthAdjust="spacingAndGlyphs" >CpG/RT</text>
<line x1="350.6" y1="418" x2="366" y2="418" stroke="#c8052f" stroke-width="1.4"/>
<path d="M358.30,420.72 L360.88,416.10 L355.72,416.10 Z" fill="#c8052f"/>
<text x="370.6" y="421.8" font-size="10.2" text-anchor="start" font-weight="normal" font-style="normal" fill="#000" textLength="41.5" lengthAdjust="spacingAndGlyphs" >CpG/PTT</text>
<defs><filter id="noise" x="0" y="0" width="100%" height="100%">
<feTurbulence type="fractalNoise" baseFrequency="0.9" numOctaves="2" seed="3" result="n"/>
<feColorMatrix in="n" type="matrix" values="0 0 0 0 0  0 0 0 0 0  0 0 0 0 0  0 0 0 0.18 0" result="nm"/>
<feComposite in="nm" in2="SourceGraphic" operator="in" result="nc"/>
<feMerge><feMergeNode in="SourceGraphic"/><feMergeNode in="nc"/></feMerge>
</filter>
<radialGradient id="tum" cx="0.45" cy="0.4" r="0.6"><stop offset="0" stop-color="#e7b9bd"/><stop offset="0.6" stop-color="#d98c96"/><stop offset="1" stop-color="#c06a78"/></radialGradient>
<radialGradient id="tum2" cx="0.5" cy="0.45" r="0.6"><stop offset="0" stop-color="#ecd6d2"/><stop offset="0.6" stop-color="#e2b8b6"/><stop offset="1" stop-color="#d18c96"/></radialGradient>
<radialGradient id="tum3" cx="0.45" cy="0.4" r="0.6"><stop offset="0" stop-color="#d9a3a8"/><stop offset="0.6" stop-color="#c27883"/><stop offset="1" stop-color="#a95465"/></radialGradient>
<radialGradient id="tum4" cx="0.45" cy="0.4" r="0.6"><stop offset="0" stop-color="#f0c09a"/><stop offset="1" stop-color="#d9936e"/></radialGradient>
</defs>
<rect x="41.4" y="482.3" width="71.5" height="38.7" fill="#dddcd7" filter="url(#noise)"/>
<rect x="131.4" y="481.2" width="70.5" height="40.1" fill="#dddcd7" filter="url(#noise)"/>
<rect x="220.6" y="480.3" width="71" height="37.3" fill="#e4dfdf" filter="url(#noise)"/>
<rect x="310.6" y="480.3" width="70.3" height="36.1" fill="#e4dedc" filter="url(#noise)"/>
<rect x="400.2" y="480.3" width="71.1" height="30.3" fill="#dbd3d3" filter="url(#noise)"/>
<text x="56.90" y="454.1" font-size="12.8" font-weight="normal" font-style="normal" fill="#000" textLength="40.41" lengthAdjust="spacingAndGlyphs" >Control</text>
<text x="153.60" y="454.1" font-size="12.8" font-weight="normal" font-style="normal" fill="#000" textLength="26.82" lengthAdjust="spacingAndGlyphs" >CpG</text>
<text x="245.60" y="454.0" font-size="12.8" font-weight="normal" font-style="normal" fill="#000" textLength="21.28" lengthAdjust="spacingAndGlyphs" >PTT</text>
<text x="321.90" y="454.1" font-size="12.8" font-weight="normal" font-style="normal" fill="#000" textLength="46.71" lengthAdjust="spacingAndGlyphs" >CpG/RT</text>
<text x="408.70" y="454.1" font-size="12.8" font-weight="normal" font-style="normal" fill="#000" textLength="53.20" lengthAdjust="spacingAndGlyphs" >CpG/PTT</text>
<text x="56.70" y="475.5" font-size="12.4" font-weight="normal" font-style="normal" fill="#000" textLength="7.42" lengthAdjust="spacingAndGlyphs" >P</text>
<text x="148.10" y="475.5" font-size="12.4" font-weight="normal" font-style="normal" fill="#000" textLength="6.92" lengthAdjust="spacingAndGlyphs" >P</text>
<text x="235.20" y="475.5" font-size="12.4" font-weight="normal" font-style="normal" fill="#000" textLength="6.92" lengthAdjust="spacingAndGlyphs" >P</text>
<text x="322.20" y="475.5" font-size="12.4" font-weight="normal" font-style="normal" fill="#000" textLength="7.22" lengthAdjust="spacingAndGlyphs" >P</text>
<text x="415.50" y="475.5" font-size="12.4" font-weight="normal" font-style="normal" fill="#000" textLength="7.12" lengthAdjust="spacingAndGlyphs" >P</text>
<text x="89.00" y="475.7" font-size="12.4" font-weight="normal" font-style="normal" fill="#000" textLength="7.72" lengthAdjust="spacingAndGlyphs" >S</text>
<text x="180.40" y="475.7" font-size="12.4" font-weight="normal" font-style="normal" fill="#000" textLength="7.52" lengthAdjust="spacingAndGlyphs" >S</text>
<text x="267.50" y="475.7" font-size="12.4" font-weight="normal" font-style="normal" fill="#000" textLength="7.52" lengthAdjust="spacingAndGlyphs" >S</text>
<text x="354.80" y="475.7" font-size="12.4" font-weight="normal" font-style="normal" fill="#000" textLength="7.52" lengthAdjust="spacingAndGlyphs" >S</text>
<text x="447.80" y="475.7" font-size="12.4" font-weight="normal" font-style="normal" fill="#000" textLength="8.12" lengthAdjust="spacingAndGlyphs" >S</text>
<defs><filter id="tb" x="-30%" y="-30%" width="160%" height="160%"><feGaussianBlur stdDeviation="0.7"/></filter><filter id="tb2" x="-50%" y="-50%" width="200%" height="200%"><feGaussianBlur stdDeviation="1.2"/></filter></defs>
<defs><radialGradient id="tg1" cx="0.55" cy="0.45" r="0.6"><stop offset="0" stop-color="#cd8f97"/><stop offset="0.55" stop-color="#c37a84"/><stop offset="1" stop-color="#d29fa5"/></radialGradient></defs>
<path d="M43,505 C42.5,499 47,495 53,494.2 C59,493.5 66,495 68,500 C69.5,506 66,512.5 59,514 C52,515 44.5,512 43,505 Z" fill="url(#tg1)" filter="url(#tb)" opacity="1"/>
<ellipse cx="52" cy="499.5" rx="2.8" ry="3.2" fill="#cc2a40" filter="url(#tb2)" opacity="0.7" transform="rotate(0 52 499.5)"/>
<ellipse cx="57.5" cy="502" rx="2" ry="3.4" fill="#cc2a40" filter="url(#tb2)" opacity="0.6" transform="rotate(0 57.5 502)"/>
<ellipse cx="45.5" cy="504.5" rx="1.8" ry="2.6" fill="#cc2a40" filter="url(#tb2)" opacity="0.55" transform="rotate(0 45.5 504.5)"/>
<ellipse cx="61" cy="500" rx="1.5" ry="1.5" fill="#f4e8ea" filter="url(#tb)" opacity="0.6" transform="rotate(0 61 500)"/>
<defs><radialGradient id="tg2" cx="0.55" cy="0.6" r="0.6"><stop offset="0" stop-color="#e7dbd9"/><stop offset="0.55" stop-color="#ddc5c5"/><stop offset="1" stop-color="#c7949b"/></radialGradient></defs>
<path d="M81,505 C80.5,499 86,495 91,494.5 L93,489 C95,486 101,485.5 103,488 C104.5,491 103.5,495 102.5,497 C106,499 108,503 107.5,507 C107,512 102,516 95,516.2 C88,516.3 81.5,511 81,505 Z" fill="url(#tg2)" filter="url(#tb)" opacity="1"/>
<ellipse cx="98" cy="490.5" rx="4.5" ry="3.5" fill="#c93a50" filter="url(#tb2)" opacity="0.8" transform="rotate(0 98 490.5)"/>
<ellipse cx="150" cy="488" rx="5" ry="3.5" fill="#ebe6e4" filter="url(#tb2)" opacity="0.6" transform="rotate(0 150 488)"/>
<defs><radialGradient id="tg3" cx="0.45" cy="0.42" r="0.6"><stop offset="0" stop-color="#d29fa4"/><stop offset="0.55" stop-color="#be7982"/><stop offset="1" stop-color="#ad6571"/></radialGradient></defs>
<path d="M139.5,503 C139,496 143,491.5 149,491 C156,490.5 160.5,495 160.6,501 C160.6,507.5 156,512 149.5,512 C143,512 139.8,508 139.5,503 Z" fill="url(#tg3)" filter="url(#tb)" opacity="1"/>
<ellipse cx="155" cy="500" rx="2" ry="2.8" fill="#cc3246" filter="url(#tb2)" opacity="0.5" transform="rotate(0 155 500)"/>
<defs><radialGradient id="tg4" cx="0.5" cy="0.45" r="0.6"><stop offset="0" stop-color="#daaeaf"/><stop offset="0.55" stop-color="#c6888d"/><stop offset="1" stop-color="#b5717a"/></radialGradient></defs>
<ellipse cx="180.9" cy="502.5" rx="8.3" ry="9.3" fill="url(#tg4)" filter="url(#tb)" opacity="1" transform="rotate(0 180.9 502.5)"/>
<defs><radialGradient id="tg5" cx="0.62" cy="0.45" r="0.6"><stop offset="0" stop-color="#cca4ab"/><stop offset="0.55" stop-color="#ab7481"/><stop offset="1" stop-color="#8e5061"/></radialGradient></defs>
<ellipse cx="231.6" cy="500" rx="7.8" ry="9.9" fill="url(#tg5)" filter="url(#tb)" opacity="1" transform="rotate(-8 231.6 500)"/>
<defs><radialGradient id="tg6" cx="0.55" cy="0.4" r="0.6"><stop offset="0" stop-color="#dcbfbf"/><stop offset="0.55" stop-color="#caa0a2"/><stop offset="1" stop-color="#b58289"/></radialGradient></defs>
<ellipse cx="276.1" cy="502" rx="6.1" ry="8.6" fill="url(#tg6)" filter="url(#tb)" opacity="1" transform="rotate(8 276.1 502)"/>
<ellipse cx="274.5" cy="507" rx="3.2" ry="2.6" fill="#b65268" filter="url(#tb2)" opacity="0.5" transform="rotate(0 274.5 507)"/>
<defs><radialGradient id="tg7" cx="0.45" cy="0.42" r="0.6"><stop offset="0" stop-color="#c79da4"/><stop offset="0.55" stop-color="#ab7481"/><stop offset="1" stop-color="#8f5465"/></radialGradient></defs>
<ellipse cx="327.8" cy="497.3" rx="8" ry="6.1" fill="url(#tg7)" filter="url(#tb)" opacity="1" transform="rotate(0 327.8 497.3)"/>
<ellipse cx="330" cy="496" rx="1.2" ry="1.2" fill="#f2e6e8" filter="url(#tb)" opacity="0.6" transform="rotate(0 330 496)"/>
<defs><radialGradient id="tg8" cx="0.45" cy="0.42" r="0.6"><stop offset="0" stop-color="#caa2a8"/><stop offset="0.55" stop-color="#b17a86"/><stop offset="1" stop-color="#955a69"/></radialGradient></defs>
<ellipse cx="363.2" cy="496.2" rx="9.4" ry="7.9" fill="url(#tg8)" filter="url(#tb)" opacity="1" transform="rotate(0 363.2 496.2)"/>
<ellipse cx="364" cy="495.5" rx="1.3" ry="1.3" fill="#f2e6e8" filter="url(#tb)" opacity="0.6" transform="rotate(0 364 495.5)"/>
<defs><radialGradient id="tg9" cx="0.45" cy="0.42" r="0.6"><stop offset="0" stop-color="#ebcaa9"/><stop offset="0.55" stop-color="#d6a788"/><stop offset="1" stop-color="#c49074"/></radialGradient></defs>
<ellipse cx="418.2" cy="495.9" rx="4.1" ry="4.0" fill="url(#tg9)" filter="url(#tb)" opacity="1" transform="rotate(0 418.2 495.9)"/>
<defs><radialGradient id="tg10" cx="0.45" cy="0.42" r="0.6"><stop offset="0" stop-color="#bd8590"/><stop offset="0.55" stop-color="#9e5769"/><stop offset="1" stop-color="#854256"/></radialGradient></defs>
<ellipse cx="452.8" cy="496" rx="6.0" ry="5.3" fill="url(#tg10)" filter="url(#tb)" opacity="1" transform="rotate(0 452.8 496)"/>
<line x1="91.7" y1="517" x2="107.8" y2="517" stroke="#000" stroke-width="1.8"/>
<line x1="182" y1="518.4" x2="197.8" y2="518.4" stroke="#000" stroke-width="1.8"/>
<line x1="270.7" y1="514.7" x2="287" y2="514.7" stroke="#000" stroke-width="1.8"/>
<line x1="361.4" y1="512" x2="378" y2="512" stroke="#000" stroke-width="1.8"/>
<line x1="451.8" y1="506.6" x2="468" y2="506.6" stroke="#000" stroke-width="1.8"/>
</svg>
</body></html>
